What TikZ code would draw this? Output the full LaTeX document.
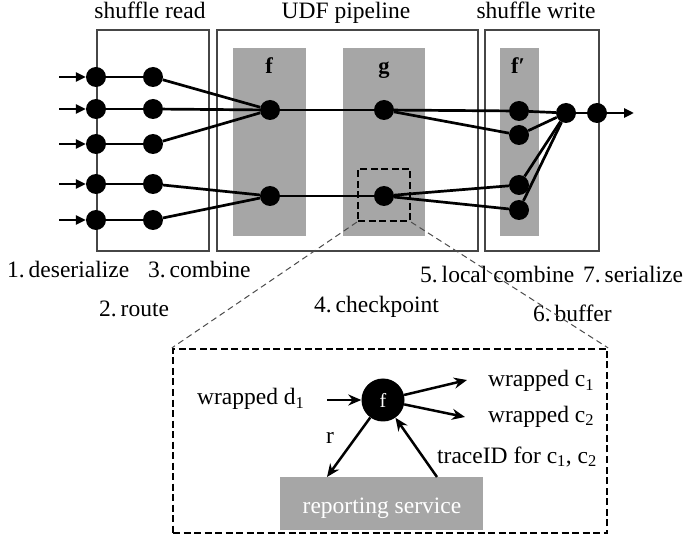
\documentclass[tikz,border=0pt]{standalone}
\usepackage{fontspec}
\setmainfont{Liberation Serif}
\usetikzlibrary{arrows.meta}
\definecolor{udfgray}{RGB}{166,166,166}
\definecolor{framegray}{RGB}{70,70,70}
\begin{document}
\begin{tikzpicture}[x=1pt,y=-1pt,
  dot/.style={circle,fill=black,inner sep=0pt,minimum size=20pt},
  conn/.style={line width=2.7pt},
  inarrow/.style={line width=2.8pt,-{Triangle[length=10pt,width=9pt]}},
  arr/.style={line width=2.5pt,-{Stealth[length=13pt,width=11pt]}},
  stage/.style={draw=framegray,line width=1.2pt},
  lbl/.style={font=\fontsize{23.5}{28}\selectfont,inner sep=0pt},
  bold/.style={font=\fontsize{22.5}{26}\selectfont\bfseries,inner sep=0pt},
  thickdash/.style={draw=black,line width=2.2pt,dash pattern=on 7pt off 3.5pt},
  thindash/.style={draw=black!70,line width=1pt,dash pattern=on 6pt off 4pt},
]
\useasboundingbox (0,0) rectangle (689,548);
\fill[white] (0,0) rectangle (689,548);

% stage frames
\draw[stage] (97,30) rectangle (209,251);
\draw[stage] (217,30) rectangle (478,251);
\draw[stage] (485,30) rectangle (599,251);
% UDF gray columns
\fill[udfgray] (233,48) rectangle (306,236);
\fill[udfgray] (343,48) rectangle (425,236);
\fill[udfgray] (500,48) rectangle (539,236);

% titles
\node[lbl,anchor=base] (tread) at (150,19) {shuffle read};
\node[lbl,anchor=base] (tudf) at (346,19) {UDF pipeline};
\node[lbl,anchor=base] (twrite) at (536,19) {shuffle write};
\node[bold,anchor=base] (lf) at (269,74) {f};
\node[bold,anchor=base] (lg) at (384,74) {g};
\node[bold,anchor=base] (lfp) at (518,74) {f′};

% dots
\foreach \i/\y in {1/77,2/109,3/144,4/184,5/220}{
  \node[dot] (a\i) at (96,\y) {};
  \node[dot] (b\i) at (153,\y) {};
  \coordinate (in\i) at (59,\y);
}
\node[dot] (fa) at (270,110) {};
\node[dot] (fb) at (270,196) {};
\node[dot] (ga) at (384,110) {};
\node[dot] (gb) at (384,196) {};
\node[dot] (h1) at (519,111) {};
\node[dot] (h2) at (519,135) {};
\node[dot] (h3) at (519,185) {};
\node[dot] (h4) at (519,210) {};
\node[dot] (cm) at (566,113) {};
\node[dot] (out) at (597,113) {};
\coordinate (outend) at (634,113);

% connectors
\foreach \i in {1,...,5}{
  \draw[inarrow] (in\i) -- (a\i);
  \draw[conn] (a\i) -- (b\i);
}
\draw[conn] (b1) -- (fa);
\draw[conn] (b2) -- (fa);
\draw[conn] (b3) -- (fa);
\draw[conn] (b4) -- (fb);
\draw[conn] (b5) -- (fb);
\draw[conn] (fa) -- (ga);
\draw[conn] (fb) -- (gb);
\draw[conn] (ga) -- (h1);
\draw[conn] (ga) -- (h2);
\draw[conn] (gb) -- (h3);
\draw[conn] (gb) -- (h4);
\draw[conn] (h1) -- (cm);
\draw[conn] (h2) -- (cm);
\draw[conn] (h3) -- (cm);
\draw[conn] (h4) -- (cm);
\draw[conn] (cm) -- (out);
\draw[inarrow] (out) -- (outend);

% step labels
\node[lbl,anchor=base west] (s1) at (7,278) {1.\,deserialize};
\node[lbl,anchor=base west] (s3) at (148,278) {3.\,combine};
\node[lbl,anchor=base west] (s2) at (99,317) {2.\,route};
\node[lbl,anchor=base west] (s4) at (314,313) {4.\,checkpoint};
\node[lbl,anchor=base west] (s5) at (420,283) {5.\,local combine};
\node[lbl,anchor=base west] (s7) at (583,283) {7.\,serialize};
\node[lbl,anchor=base west] (s6) at (533,322) {6.\,buffer};

% zoom
\node[thickdash,minimum width=52pt,minimum height=52pt,inner sep=0pt] (zsrc) at (384,195) {};
\node[fill=udfgray,minimum width=203pt,minimum height=53pt,inner sep=0pt] (rep) at (381.5,503.5) {};
\node[lbl,text=white,anchor=base] (reptext) at (382,513) {reporting service};
\node[thickdash,minimum width=434pt,minimum height=184pt,inner sep=0pt] (zbox) at (390,441) {};
\draw[thindash] (zsrc.south west) -- (zbox.north west);
\draw[thindash] (zsrc.south east) -- (zbox.north east);

\node[circle,fill=black,minimum size=43pt,inner sep=0pt,text=white,font=\fontsize{20}{24}\selectfont] (fc) at (383,400) {f};
\node[lbl,anchor=base west] (wd) at (197,405) {wrapped d\textsubscript{1}};
\node[lbl,anchor=base west] (wc1) at (488,387) {wrapped c\textsubscript{1}};
\node[lbl,anchor=base west] (wc2) at (488,422) {wrapped c\textsubscript{2}};
\node[lbl,anchor=base] (rl) at (330,443) {r};
\node[lbl,anchor=base west] (tr) at (437,463) {traceID for c\textsubscript{1}, c\textsubscript{2}};

\coordinate (dstart) at (327,400);
\coordinate (c1tip) at (467,380);
\coordinate (c2tip) at (465,417);
\coordinate (rtip) at (327,477);
\coordinate (tstart) at (437,477);
\draw[arr] (dstart) -- (fc);
\draw[arr] (fc) -- (c1tip);
\draw[arr] (fc) -- (c2tip);
\draw[arr] (fc) -- (rtip);
\draw[arr] (tstart) -- (fc);
\end{tikzpicture}
\end{document}
